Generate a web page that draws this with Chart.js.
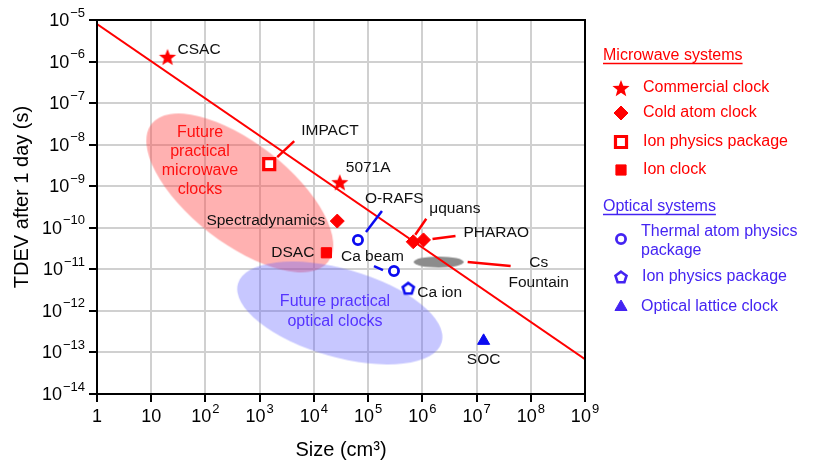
<!DOCTYPE html>
<html>
<head>
<meta charset="utf-8">
<title>TDEV vs size</title>
<script src="https://cdn.jsdelivr.net/npm/chart.js@4.4.0/dist/chart.umd.min.js"></script>
<style>
  html, body { margin: 0; padding: 0; background: #fff; }
  #wrap { width: 830px; height: 470px; }
</style>
</head>
<body>
<div id="wrap"><canvas id="tdevChart" width="830" height="470"></canvas></div>
<script>
// Axis decades (exponents of 10)
const xTickExps = [0, 1, 2, 3, 4, 5, 6, 7, 8, 9];
const yTickExps = [-5, -6, -7, -8, -9, -10, -11, -12, -13, -14];

// Microwave systems
const commercialNames = ['CSAC', '5071A'];
const commercialSize = [20, 3.0e4];
const commercialTdev = [1.3e-6, 1.25e-9];

const coldAtomNames = ['Spectradynamics', 'μquans', 'PHARAO'];
const coldAtomSize = [2.7e4, 6.8e5, 1.05e6];
const coldAtomTdev = [1.45e-10, 4.6e-11, 5.1e-11];

const ionPkgNames = ['IMPACT'];
const ionPkgSize = [1.5e3];
const ionPkgTdev = [3.4e-9];

const ionClockNames = ['DSAC'];
const ionClockSize = [1.7e4];
const ionClockTdev = [2.5e-11];

const fountainNames = ['Cs Fountain'];
const fountainSize = [2.0e6];
const fountainTdev = [1.5e-11];

// Optical systems
const thermalNames = ['O-RAFS', 'Ca beam'];
const thermalSize = [6.5e4, 3.0e5];
const thermalTdev = [5.1e-11, 9.1e-12];

const optIonNames = ['Ca ion'];
const optIonSize = [5.5e5];
const optIonTdev = [3.5e-12];

const latticeNames = ['SOC'];
const latticeSize = [1.35e7];
const latticeTdev = [1.9e-13];

// Trend line end points
const trendSize = [1, 1e9];
const trendTdev = [8.0e-6, 6.85e-14];

// Centres of the "future practical" regions
const mwRegionSize = [430];
const mwRegionTdev = [6.9e-10];
const optRegionSize = [3.0e4];
const optRegionTdev = [8.9e-13];

const RED = '#ff0000';
const BLUE = '#0b0bf0';
const PURPLE = '#4424f2';
const FONT = '"Liberation Sans", Arial, Helvetica, sans-serif';

function toPoints(xs, ys) {
    return xs.map((x, i) => ({ x: x, y: ys[i] }));
}

// --- marker images ---
function makeStar(color, r) {
    const c = document.createElement('canvas');
    c.width = c.height = Math.ceil(r * 2 + 2);
    const g = c.getContext('2d');
    const cx = c.width / 2, cy = c.height / 2 + r * 0.1;
    g.beginPath();
    for (let i = 0; i < 10; i++) {
        const rad = i % 2 === 0 ? r : r * 0.42;
        const a = -Math.PI / 2 + i * Math.PI / 5;
        g.lineTo(cx + rad * Math.cos(a), cy + rad * Math.sin(a));
    }
    g.closePath();
    g.fillStyle = color;
    g.fill();
    return c;
}

function makePentagon(color, r) {
    const c = document.createElement('canvas');
    c.width = c.height = Math.ceil(r * 2 + 4);
    const g = c.getContext('2d');
    const cx = c.width / 2, cy = c.height / 2 + 0.5;
    g.beginPath();
    for (let i = 0; i < 5; i++) {
        const a = -Math.PI / 2 + i * 2 * Math.PI / 5;
        g.lineTo(cx + r * Math.cos(a), cy + r * Math.sin(a));
    }
    g.closePath();
    g.fillStyle = '#fff';
    g.fill();
    g.lineWidth = 2.6;
    g.lineJoin = 'miter';
    g.strokeStyle = color;
    g.stroke();
    return c;
}

function makeEllipse(color, a, b, deg) {
    const rot = deg * Math.PI / 180;
    const hw = Math.sqrt(a * a * Math.cos(rot) ** 2 + b * b * Math.sin(rot) ** 2);
    const hh = Math.sqrt(a * a * Math.sin(rot) ** 2 + b * b * Math.cos(rot) ** 2);
    const c = document.createElement('canvas');
    c.width = Math.ceil(hw * 2 + 2);
    c.height = Math.ceil(hh * 2 + 2);
    const g = c.getContext('2d');
    g.beginPath();
    g.ellipse(c.width / 2, c.height / 2, a, b, rot, 0, Math.PI * 2);
    g.fillStyle = color;
    g.fill();
    return c;
}

const starImg = makeStar(RED, 9);
const pentImg = makePentagon(BLUE, 5.8);
const pentLegendImg = makePentagon(PURPLE, 5.8);
const mwRegionImg = makeEllipse('rgba(255, 70, 70, 0.42)', 112, 50, 38);
const optRegionImg = makeEllipse('rgba(95, 95, 255, 0.35)', 106, 44, 16);
const fountainImg = makeEllipse('#8c8c8c', 25, 5.5, 0);

// label placement, pixel offsets from the marker
const labelLayout = {
    'CSAC': { dx: 10, dy: -7 },
    '5071A': { dx: 6, dy: -14 },
    'IMPACT': { dx: 32, dy: -33, lead: [8, -7, 25, -23] },
    'Spectradynamics': { dx: -12, dy: 0, align: 'right' },
    'DSAC': { dx: -12, dy: 0, align: 'right' },
    'μquans': { dx: 16, dy: -33, lead: [2, -7, 13, -23] },
    'PHARAO': { dx: 40, dy: -7, lead: [9, -1, 32, -4] },
    'Cs Fountain': { dx: 100, dy: 1, align: 'center', lines: ['Cs', 'Fountain'], lead: [29, 0, 72, 4] },
    'O-RAFS': { dx: 7, dy: -41, lead: [8, -8, 24, -29] },
    'Ca beam': { dx: -53, dy: -14, lead: [-20, -5, -11, -1] },
    'Ca ion': { dx: 9, dy: 4 },
    'SOC': { dx: 0, dy: 19, align: 'center' }
};

const datasets = [
    { label: 'Future practical microwave clocks', data: toPoints(mwRegionSize, mwRegionTdev),
      pointStyle: mwRegionImg, order: 20 },
    { label: 'Future practical optical clocks', data: toPoints(optRegionSize, optRegionTdev),
      pointStyle: optRegionImg, order: 19 },
    { label: 'Cs Fountain', names: fountainNames, data: toPoints(fountainSize, fountainTdev),
      pointStyle: fountainImg, order: 18, leadColor: RED },
    { type: 'line', label: 'trend', data: toPoints(trendSize, trendTdev),
      borderColor: RED, borderWidth: 2, pointRadius: 0, fill: false, order: 10 },
    { label: 'Commercial clock', names: commercialNames, data: toPoints(commercialSize, commercialTdev),
      pointStyle: starImg, backgroundColor: RED, borderColor: RED, order: 1 },
    { label: 'Cold atom clock', names: coldAtomNames, data: toPoints(coldAtomSize, coldAtomTdev),
      pointStyle: 'rectRot', pointRadius: 7, backgroundColor: RED, borderColor: RED, borderWidth: 1,
      order: 1, leadColor: RED },
    { label: 'Ion physics package', names: ionPkgNames, data: toPoints(ionPkgSize, ionPkgTdev),
      pointStyle: 'rect', pointRadius: 7.8, backgroundColor: '#fff', borderColor: RED, borderWidth: 3.2,
      order: 1, leadColor: RED },
    { label: 'Ion clock', names: ionClockNames, data: toPoints(ionClockSize, ionClockTdev),
      pointStyle: 'rect', pointRadius: 7.2, backgroundColor: RED, borderColor: RED, borderWidth: 1, order: 1 },
    { label: 'Thermal atom physics package', names: thermalNames, data: toPoints(thermalSize, thermalTdev),
      pointStyle: 'circle', pointRadius: 4.6, backgroundColor: '#fff', borderColor: BLUE, borderWidth: 2.8,
      order: 1, leadColor: BLUE },
    { label: 'Ion physics package', names: optIonNames, data: toPoints(optIonSize, optIonTdev),
      pointStyle: pentImg, order: 1 },
    { label: 'Optical lattice clock', names: latticeNames, data: toPoints(latticeSize, latticeTdev),
      pointStyle: 'triangle', pointRadius: 7, backgroundColor: BLUE, borderColor: BLUE, borderWidth: 1, order: 1 }
];

// "10" with a raised exponent
function drawPow(ctx, exp, x, y, align) {
    const base = exp === 0 ? '1' : '10';
    const sup = (exp === 0 || exp === 1) ? '' : String(exp).replace('-', '\u2212');
    const baseFont = '18px ' + FONT;
    const supFont = '13px ' + FONT;
    ctx.font = baseFont;
    const bw = ctx.measureText(base).width;
    ctx.font = supFont;
    const sw = sup ? ctx.measureText(sup).width + 1 : 0;
    const total = bw + sw;
    const left = align === 'right' ? x - total : x - total / 2;
    ctx.textAlign = 'left';
    ctx.textBaseline = 'middle';
    ctx.font = baseFont;
    ctx.fillText(base, left, y);
    if (sup) {
        ctx.font = supFont;
        ctx.fillText(sup, left + bw + 1, y - 8);
    }
}

function drawMarker(ctx, style, radius, fill, stroke, bw, x, y) {
    ctx.save();
    ctx.fillStyle = fill;
    ctx.strokeStyle = stroke;
    ctx.lineWidth = bw;
    Chart.helpers.drawPoint(ctx, { pointStyle: style, radius: radius, rotation: 0, borderWidth: bw }, x, y);
    ctx.restore();
}

const annotationPlugin = {
    id: 'annotations',
    afterDatasetsDraw(chart) {
        const ctx = chart.ctx;
        const area = chart.chartArea;
        const xs = chart.scales.x, ys = chart.scales.y;
        ctx.save();

        // frame
        ctx.strokeStyle = '#000';
        ctx.lineWidth = 2;
        ctx.strokeRect(area.left, area.top, area.right - area.left, area.bottom - area.top);

        // tick labels
        ctx.fillStyle = '#000';
        xTickExps.forEach(e => drawPow(ctx, e, xs.getPixelForValue(Math.pow(10, e)), 417, 'center'));
        yTickExps.forEach(e => drawPow(ctx, e, 85, ys.getPixelForValue(Math.pow(10, e)) + 1, 'right'));

        // axis titles
        ctx.font = '20px ' + FONT;
        ctx.textAlign = 'center';
        ctx.textBaseline = 'middle';
        ctx.fillText('Size (cm³)', (area.left + area.right) / 2, 450);
        ctx.save();
        ctx.translate(22, 197);
        ctx.rotate(-Math.PI / 2);
        ctx.fillText('TDEV after 1 day (s)', 0, 0);
        ctx.restore();

        // point labels and leader lines
        ctx.font = '15.5px ' + FONT;
        chart.data.datasets.forEach((ds, i) => {
            if (!ds.names) return;
            const meta = chart.getDatasetMeta(i);
            ds.names.forEach((name, j) => {
                const el = meta.data[j];
                const lay = labelLayout[name];
                if (!el || !lay) return;
                if (lay.lead) {
                    ctx.strokeStyle = ds.leadColor || '#000';
                    ctx.lineWidth = 2.5;
                    ctx.beginPath();
                    ctx.moveTo(el.x + lay.lead[0], el.y + lay.lead[1]);
                    ctx.lineTo(el.x + lay.lead[2], el.y + lay.lead[3]);
                    ctx.stroke();
                }
                ctx.fillStyle = '#111';
                ctx.textAlign = lay.align || 'left';
                ctx.textBaseline = 'middle';
                const lines = lay.lines || [name];
                lines.forEach((t, k) => ctx.fillText(t, el.x + lay.dx, el.y + lay.dy + k * 20));
            });
        });

        // region captions
        ctx.font = '16px ' + FONT;
        ctx.textAlign = 'center';
        ctx.fillStyle = '#ff1010';
        ['Future', 'practical', 'microwave', 'clocks'].forEach((t, k) => ctx.fillText(t, 200, 133 + k * 19));
        ctx.fillStyle = '#5533ff';
        ['Future practical', 'optical clocks'].forEach((t, k) => ctx.fillText(t, 335, 302 + k * 20));

        // legend
        ctx.textAlign = 'left';
        ctx.font = '16px ' + FONT;
        const heading = (text, y, color) => {
            ctx.fillStyle = color;
            ctx.fillText(text, 603, y);
            const w = ctx.measureText(text).width;
            ctx.strokeStyle = color;
            ctx.lineWidth = 1.3;
            ctx.beginPath();
            ctx.moveTo(603, y + 7.5);
            ctx.lineTo(603 + w, y + 7.5);
            ctx.stroke();
        };
        heading('Microwave systems', 56, RED);
        drawMarker(ctx, starImg, 9, RED, RED, 0, 621, 88);
        drawMarker(ctx, 'rectRot', 7, RED, RED, 1, 621, 113);
        drawMarker(ctx, 'rect', 7.8, '#fff', RED, 3.2, 621, 142);
        drawMarker(ctx, 'rect', 7.2, RED, RED, 1, 621, 170);
        ctx.fillStyle = RED;
        ctx.fillText('Commercial clock', 643, 88);
        ctx.fillText('Cold atom clock', 643, 113);
        ctx.fillText('Ion physics package', 643, 142);
        ctx.fillText('Ion clock', 643, 170);

        heading('Optical systems', 207, PURPLE);
        drawMarker(ctx, 'circle', 4.6, '#fff', PURPLE, 2.8, 621, 239);
        drawMarker(ctx, pentLegendImg, 6, PURPLE, PURPLE, 0, 621, 277);
        drawMarker(ctx, 'triangle', 7, PURPLE, PURPLE, 1, 621, 307);
        ctx.fillStyle = PURPLE;
        ctx.fillText('Thermal atom physics', 641, 232);
        ctx.fillText('package', 641, 251);
        ctx.fillText('Ion physics package', 642, 277);
        ctx.fillText('Optical lattice clock', 641, 307);

        ctx.restore();
    }
};

const decadeTicks = exps => scale => {
    scale.ticks = exps.map(e => ({ value: Math.pow(10, e) }));
};

new Chart(document.getElementById('tdevChart').getContext('2d'), {
    type: 'scatter',
    data: { datasets: datasets },
    options: {
        responsive: false,
        animation: false,
        events: [],
        layout: { padding: { left: 0, top: 20, right: 245, bottom: 0 } },
        plugins: {
            legend: { display: false },
            tooltip: { enabled: false }
        },
        scales: {
            x: {
                type: 'logarithmic',
                min: 1,
                max: 1e9,
                afterBuildTicks: decadeTicks(xTickExps),
                afterFit: scale => { scale.height = 76; },
                ticks: { display: false },
                grid: { color: '#d0d0d0', lineWidth: 2, tickColor: '#000', tickWidth: 2, tickLength: 8 },
                border: { color: '#000', width: 2 }
            },
            y: {
                type: 'logarithmic',
                min: 1e-14,
                max: 1e-5,
                afterBuildTicks: decadeTicks(yTickExps),
                afterFit: scale => { scale.width = 97; },
                ticks: { display: false },
                grid: { color: '#d0d0d0', lineWidth: 2, tickColor: '#000', tickWidth: 2, tickLength: 8 },
                border: { color: '#000', width: 2 }
            }
        }
    },
    plugins: [annotationPlugin]
});
</script>
</body>
</html>
